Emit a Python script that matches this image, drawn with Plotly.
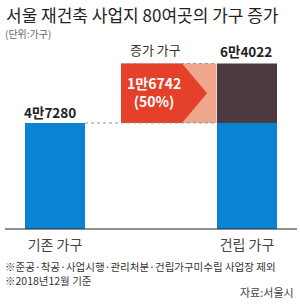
import plotly.graph_objects as go

# ---- data ----
categories = ["기존 가구", "건립 가구"]
households = [47280, 64022]          # existing, built
increase_label = "증가 가구"
increase_pct = 50                    # as printed on the graphic
title = "서울 재건축 사업지 80여곳의 가구 증가"
unit = "(단위:가구)"
notes = ["※준공·착공·사업시행·관리처분·건립가구미수립 사업장 제외", "※2018년12월 기준"]
source = "자료:서울시"

existing, built = households
increase = built - existing

def man(v):
    return f"{v // 10000}만{v % 10000}"

# ---- styling / geometry ----
W, H = 300, 304
T, B = 39, 75
PH = H - T - B
BASE_PX = H - B
Y_FLOOR = 17450
Y_TOP = 70900
X0_PX, UNIT_PX = 55, 96          # x=0 at px 55, 96 px per unit
XR = [(0 - X0_PX) / UNIT_PX, (W - X0_PX) / UNIT_PX]
BAR_W = 60 / UNIT_PX

def px_x(px):
    return (px - X0_PX) / UNIT_PX

def px_py(py):
    return (BASE_PX - py) / PH

FONT = "Noto Sans CJK KR"
BLUE = "#0a84d2"
DARK = "#4b3a40"
RED = "#e5402a"
SALMON = "#eea68c"

x_left, x_right = 0, 2
box_l, box_r = px_x(121), px_x(216.5)
box_c = (box_l + box_r) / 2

fig = go.Figure()
fig.add_bar(x=[x_left, x_right], y=[existing, existing], base=[0, 0], width=BAR_W,
            marker=dict(color=BLUE, line=dict(width=0)), hoverinfo="skip")
fig.add_bar(x=[x_right], y=[increase], base=[existing], width=BAR_W,
            marker=dict(color=DARK, line=dict(width=0)), hoverinfo="skip")
fig.add_bar(x=[box_c], y=[increase], base=[existing], width=box_r - box_l,
            marker=dict(color=SALMON, line=dict(width=0)), hoverinfo="skip")

mid = (existing + built) / 2
body_r, tip = px_x(182), px_x(207)
path = (f"M {box_l},{existing} L {body_r},{existing} L {tip},{mid} "
        f"L {body_r},{built} L {box_l},{built} Z")
shapes = [
    dict(type="path", path=path, xref="x", yref="y", fillcolor=RED, line=dict(width=0)),
    dict(type="line", xref="x", yref="y", x0=x_left + BAR_W / 2, x1=box_r, y0=existing, y1=existing,
         line=dict(color="#999", width=1, dash="dot")),
    dict(type="line", xref="x", yref="y", x0=box_l, x1=box_r, y0=built, y1=built,
         line=dict(color="#999", width=1, dash="dot")),
    dict(type="line", xref="paper", yref="paper", x0=5 / W, x1=297 / W, y0=0, y1=0,
         line=dict(color="#222", width=1.2)),
]

ann = []
ann.append(dict(text=title, x=4 / W, y=px_py(14), xanchor="left", yanchor="middle",
                font=dict(size=17, color="#222", family=FONT)))
ann.append(dict(text=unit, x=3 / W, y=px_py(34), xanchor="left", yanchor="middle",
                font=dict(size=10, color="#666", family=FONT)))
ann.append(dict(text=increase_label, x=px_x(155), y=px_py(50), xref="x", xanchor="center",
                yanchor="middle", font=dict(size=13, color="#333", family=FONT)))
ann.append(dict(text=man(existing), x=x_left, y=existing, xref="x", yref="y", xshift=-5, yshift=11,
                xanchor="center", yanchor="middle",
                font=dict(size=13.5, color="#222", family=FONT, weight="bold")))
ann.append(dict(text=man(built), x=x_right, y=built, xref="x", yref="y", xshift=-1, yshift=12,
                xanchor="center", yanchor="middle",
                font=dict(size=13.5, color="#222", family=FONT, weight="bold")))
ann.append(dict(text=f"{man(increase)}<br>({increase_pct}%)", x=px_x(154), y=mid, xref="x", yref="y",
                yshift=1, xanchor="center", yanchor="middle", align="center",
                font=dict(size=14, color="white", family=FONT, weight="bold")))
ann.append(dict(text="<br>".join(notes), x=3 / W, y=px_py(273.5), xanchor="left", yanchor="middle",
                align="left", font=dict(size=10.5, color="#333", family=FONT)))
ann.append(dict(text=source, x=296 / W, y=px_py(292), xanchor="right", yanchor="middle",
                font=dict(size=11, color="#444", family=FONT)))
for a in ann:
    a.setdefault("xref", "paper")
    a.setdefault("yref", "paper")
    a["showarrow"] = False

fig.update_layout(
    width=W, height=H, margin=dict(l=0, r=0, t=T, b=B),
    paper_bgcolor="white", plot_bgcolor="white",
    barmode="overlay", showlegend=False,
    xaxis=dict(range=XR, tickvals=[x_left, x_right], ticktext=categories, showgrid=False,
               zeroline=False, showline=False, ticks="", ticklabelstandoff=6,
               tickfont=dict(size=14, color="#444", family=FONT), fixedrange=True),
    yaxis=dict(range=[Y_FLOOR, Y_TOP], visible=False, showgrid=False, fixedrange=True),
    shapes=shapes, annotations=ann,
)
fig.write_html("out.html", config={"displayModeBar": False})
